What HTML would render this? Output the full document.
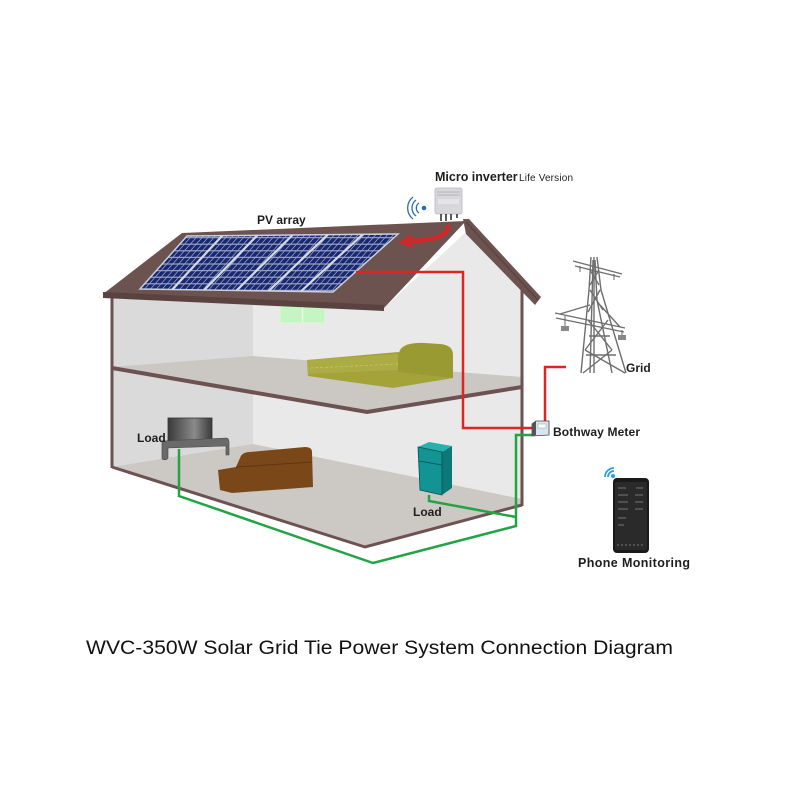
<!DOCTYPE html>
<html><head><meta charset="utf-8"><style>
html,body{margin:0;padding:0;background:#fff;}
svg{display:block;}
text{font-family:"Liberation Sans",Arial,sans-serif;}
</style></head><body>
<svg width="800" height="800" viewBox="0 0 800 800" xmlns="http://www.w3.org/2000/svg">
<defs>
<pattern id="cells" width="5.9" height="6.6" patternUnits="userSpaceOnUse" patternTransform="skewX(-41.6)">
<rect width="5.9" height="6.6" fill="#9aa4c8"/>
<rect x="0.5" y="0.6" width="4.9" height="5.4" fill="#1a2870"/>
</pattern>
<linearGradient id="tv" x1="0" y1="0" x2="1" y2="0">
<stop offset="0" stop-color="#3a3a3a"/><stop offset="0.6" stop-color="#8a8a8a"/><stop offset="1" stop-color="#3a3a3a"/>
</linearGradient>
</defs>
<rect width="800" height="800" fill="#fff"/>

<!-- house walls -->
<polygon points="112,296 384,308 466,232 522,292 522,505 365,547 112,467" fill="#e9e9e9"/>
<polygon points="112,296 253,300 253,445 112,467" fill="#dadada"/>
<!-- upper floor -->
<polygon points="112,367 253,356 522,377 522,386 367,411" fill="#cbc7c3"/>
<polyline points="112,368 367,412 522,387" fill="none" stroke="#6e5252" stroke-width="4"/>
<!-- ground floor -->
<polygon points="112,467 253,444 522,499 522,505 365,547" fill="#ccc8c4"/>
<polyline points="112,467 365,547 522,505" fill="none" stroke="#6e5252" stroke-width="3"/>
<!-- wall lines -->
<line x1="112" y1="294" x2="112" y2="468" stroke="#6e5252" stroke-width="3"/>
<line x1="522" y1="290" x2="522" y2="506" stroke="#6e5252" stroke-width="3"/>

<!-- window -->
<rect x="280" y="303" width="45" height="20" fill="#c6f5c4" stroke="#e0f5de" stroke-width="1"/>
<line x1="302.5" y1="303" x2="302.5" y2="323" stroke="#e6f7e6" stroke-width="1.5"/>

<!-- roof -->
<polygon points="182,233 466,221 384,308 103,294" fill="#6d5350"/>
<polygon points="103,292 384,305 384,311 103,298" fill="#5a4240"/>
<polygon points="463,219 469,219 541,297 535,305 466,234" fill="#6d5350"/>
<line x1="466" y1="222" x2="538" y2="300" stroke="#5c4442" stroke-width="1.5"/>

<!-- PV array -->
<polygon points="187,236 398,234 333,292 140,289" fill="url(#cells)"/>
<polygon points="187,236 398,234 333,292 140,289" fill="none" stroke="#c9cfdb" stroke-width="1.5"/>
<g stroke="#d4d8e0" stroke-width="2.2">
<line x1="222.2" y1="235.7" x2="172.2" y2="289.5"/>
<line x1="257.3" y1="235.3" x2="204.3" y2="290"/>
<line x1="292.5" y1="235" x2="236.5" y2="290.5"/>
<line x1="327.7" y1="234.7" x2="268.7" y2="291"/>
<line x1="362.8" y1="234.3" x2="300.8" y2="291.5"/>
</g>

<!-- bed -->
<polygon points="307,360 398,352 453,362 453,378 393,388 308,376" fill="#a3a33a"/>
<path d="M398,356 L400,350 Q405,342 425,343 L440,344 Q453,345 453,355 L453,378 L398,372 Z" fill="#9a9a32"/>
<polygon points="307,360 398,354 398,370 308,374" fill="#acac44"/>
<line x1="310" y1="368" x2="398" y2="364" stroke="#c4c46a" stroke-width="0.8" stroke-dasharray="3,2"/>

<!-- TV -->
<rect x="168" y="418" width="44" height="25" fill="url(#tv)" stroke="#333" stroke-width="0.8"/>
<path d="M162,441 L226,438 Q229,438 229,442 L229,455 L226,455 L226,446 L168,448 L168,458 Q166,461 162,459 Z" fill="#6a6a6a" stroke="#444" stroke-width="0.6"/>

<!-- sofa -->
<path d="M218,470 L236,467 L240,458 Q242,452 250,452 L305,447 Q312,447 312,452 L313,487 L232,493 L220,490 Z" fill="#7a4818"/>
<path d="M236,467 L312,462" stroke="#5e360e" stroke-width="1" fill="none"/>

<!-- fridge -->
<polygon points="418,447 429,442 452,446 442,452" fill="#27b0b0"/>
<polygon points="418,447 442,452 442,495 420,490" fill="#139494"/>
<polygon points="442,452 452,446 452,488 442,495" fill="#0d7878"/>
<line x1="419" y1="461" x2="442" y2="465" stroke="#0b5c5c" stroke-width="1"/>
<polygon points="418,447 442,452 442,495 420,490" fill="none" stroke="#0b4f4f" stroke-width="0.8"/>

<!-- red wires -->
<g fill="none" stroke="#e02424" stroke-width="2.5">
<polyline points="356,272 463,272 463,428 532,428"/>
<polyline points="566,367 545,367 545,422"/>
</g>
<!-- green wires -->
<g fill="none" stroke="#22a444" stroke-width="2.5">
<polyline points="179,449 179,496 373,563 516,526 516,435 532,435"/>
<polyline points="429,495 429,501 516,517"/>
</g>

<!-- meter -->
<polygon points="532,424 536,421 549,421 549,435 532,436" fill="#d8e4ee" stroke="#444" stroke-width="0.8"/>
<polygon points="532,424 536,421 536,435 532,436" fill="#555"/>
<rect x="538" y="424" width="8" height="4" fill="#fff" stroke="#7aa" stroke-width="0.5"/>

<!-- micro inverter -->
<rect x="435" y="188" width="27" height="26" rx="2" fill="#d8d8dc" stroke="#b8b8bc" stroke-width="0.8"/>
<g stroke="#aaa" stroke-width="0.8">
<line x1="437" y1="192" x2="460" y2="192"/><line x1="437" y1="195" x2="460" y2="195"/>
</g>
<rect x="438" y="199" width="21" height="5" fill="#e4e4e8"/>
<g stroke="#333" stroke-width="1.6">
<line x1="441" y1="214" x2="441" y2="221"/><line x1="446" y1="214" x2="446" y2="221"/>
<line x1="451" y1="214" x2="451" y2="220"/><line x1="457" y1="214" x2="457" y2="218"/>
</g>
<!-- wifi near inverter -->
<circle cx="424" cy="208" r="2.3" fill="#2a6cb0"/>
<g fill="none" stroke="#2a6cb0" stroke-width="1.3">
<path d="M419,203 A6,6 0 0 0 419,213"/>
<path d="M416,200 A10,10 0 0 0 416,216"/>
<path d="M413,197 A14,14 0 0 0 413,219"/>
</g>
<!-- red curved arrow -->
<path d="M448,227 Q446,240 412,241" fill="none" stroke="#cc2a2a" stroke-width="5" stroke-linecap="round"/>
<polygon points="398,243 412,234 413,248" fill="#cc2a2a"/>

<!-- tower -->
<g stroke="#6e6e6e" stroke-width="1.4" fill="none">
<polyline points="591,257 589,290 581,373"/>
<polyline points="597,257 601,290 626,373"/>
<polyline points="593,260 592,300 590,373"/>
<polyline points="595,260 597,300 612,373"/>
<line x1="573" y1="261" x2="622" y2="274"/>
<line x1="575" y1="266" x2="620" y2="277"/>
<line x1="555" y1="313" x2="625" y2="328"/>
<line x1="556" y1="318" x2="624" y2="332"/>
<line x1="590" y1="290" x2="603" y2="310"/><line x1="600" y1="290" x2="588" y2="312"/>
<line x1="588" y1="320" x2="612" y2="350"/><line x1="608" y1="320" x2="585" y2="350"/>
<line x1="585" y1="350" x2="625" y2="373"/><line x1="612" y1="350" x2="583" y2="373"/>
<line x1="590" y1="270" x2="599" y2="285"/><line x1="599" y1="270" x2="590" y2="285"/>
<line x1="589" y1="336" x2="610" y2="336"/><line x1="586" y1="355" x2="616" y2="355"/>
<line x1="594" y1="257" x2="594" y2="373"/>
<line x1="560" y1="314" x2="590" y2="305"/><line x1="620" y1="327" x2="600" y2="305"/>
</g>
<g stroke="#666" stroke-width="1">
<line x1="565" y1="316" x2="565" y2="326"/><line x1="622" y1="330" x2="622" y2="336"/>
<line x1="580" y1="266" x2="580" y2="272"/><line x1="614" y1="274" x2="614" y2="280"/>
</g>
<g fill="#888"><rect x="561" y="326" width="8" height="5"/><rect x="618" y="335" width="8" height="5"/></g>

<!-- phone -->
<path d="M605,477 A9,9 0 0 1 614,468" fill="none" stroke="#2aa0e0" stroke-width="1.8"/>
<path d="M608,477 A6,6 0 0 1 614,471" fill="none" stroke="#2aa0e0" stroke-width="1.8"/>
<circle cx="613" cy="476" r="2" fill="#2aa0e0"/>
<rect x="613" y="478" width="36" height="75" rx="4" fill="#1a1a1a"/>
<rect x="615" y="482" width="32" height="68" rx="2" fill="#2a2a2a"/>
<g stroke="#777" stroke-width="1">
<line x1="618" y1="488" x2="626" y2="488"/><line x1="636" y1="488" x2="643" y2="488"/>
<line x1="618" y1="495" x2="628" y2="495"/><line x1="635" y1="495" x2="643" y2="495"/>
<line x1="618" y1="502" x2="628" y2="502"/><line x1="635" y1="502" x2="643" y2="502"/>
<line x1="618" y1="509" x2="628" y2="509"/><line x1="635" y1="509" x2="643" y2="509"/>
<line x1="618" y1="518" x2="626" y2="518"/><line x1="618" y1="525" x2="624" y2="525"/>
<line x1="617" y1="545" x2="645" y2="545" stroke-dasharray="2,2"/>
</g>

<!-- labels -->
<g font-weight="bold" fill="#1e1e1e">
<text x="435" y="181" font-size="12.5">Micro inverter</text>
<text x="257" y="224" font-size="12">PV array</text>
<text x="137" y="442" font-size="12">Load</text>
<text x="413" y="516" font-size="12">Load</text>
<text x="626" y="372" font-size="12">Grid</text>
<text x="553" y="436" font-size="12" textLength="87">Bothway Meter</text>
<text x="578" y="567" font-size="12.5" textLength="112">Phone Monitoring</text>
</g>
<text x="519" y="181" font-size="10" fill="#1e1e1e" textLength="54">Life Version</text>
<text x="86" y="654" font-size="19.5" fill="#111" textLength="587" lengthAdjust="spacingAndGlyphs">WVC-350W Solar Grid Tie Power System Connection Diagram</text>
</svg>
</body></html>
